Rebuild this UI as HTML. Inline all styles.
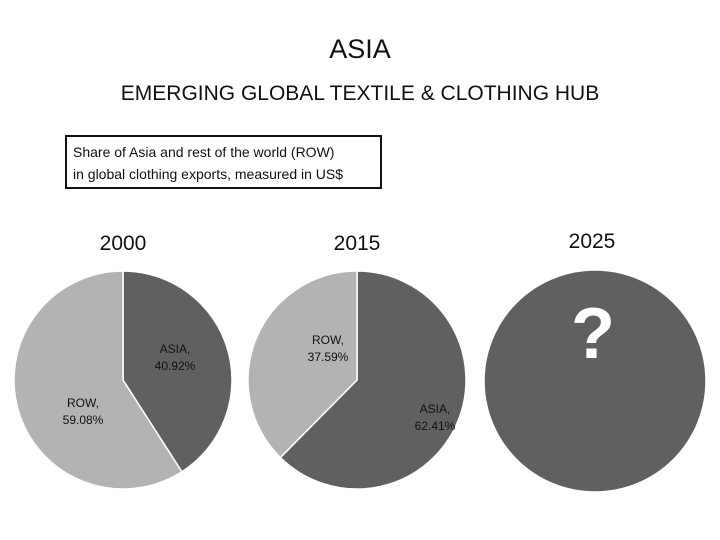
<!DOCTYPE html>
<html><head><meta charset="utf-8"><style>
body{margin:0;background:#fff;}
svg{display:block;font-family:"Liberation Sans",sans-serif;}
</style></head><body>
<svg width="720" height="540">
<text x="360" y="58" text-anchor="middle" font-size="27" fill="#111">ASIA</text>
<text x="360" y="100" text-anchor="middle" font-size="21" fill="#111">EMERGING GLOBAL TEXTILE &amp; CLOTHING HUB</text>
<rect x="66" y="136" width="315" height="52" fill="#fff" stroke="#111" stroke-width="2"/>
<text x="73" y="157" font-size="14" fill="#111">Share of Asia and rest of the world (ROW)</text>
<text x="73" y="179" font-size="14" fill="#111">in global clothing exports, measured in US$</text>
<text x="123" y="250" text-anchor="middle" font-size="21" fill="#111">2000</text>
<text x="357" y="250" text-anchor="middle" font-size="21" fill="#111">2015</text>
<text x="592" y="248" text-anchor="middle" font-size="21" fill="#111">2025</text>
<g id="pies"></g>
<circle cx="595" cy="381" r="111" fill="#606060" stroke="#fff" stroke-width="1.5"/>
<text x="593" y="358" text-anchor="middle" font-size="72" font-weight="bold" fill="#fff">?</text>
</svg>
<script>
const years=["2000","2015"];
const asiaShare=[40.92,62.41];
const rowShare=[59.08,37.59];
const centers=[[123,380],[357,380]];
const asiaLabelPos=[[175,353],[435,413]];
const rowLabelPos=[[83,407],[328,344]];
const R=109;
const g=document.getElementById('pies');
const NS="http://www.w3.org/2000/svg";
function pt(cx,cy,frac){const a=frac*2*Math.PI;return [cx+R*Math.sin(a),cy-R*Math.cos(a)];}
function slice(cx,cy,f0,f1,fill,name){
  const p0=pt(cx,cy,f0),p1=pt(cx,cy,f1);const large=(f1-f0)>0.5?1:0;
  const p=document.createElementNS(NS,'path');
  p.setAttribute('d',`M${cx},${cy}L${p0[0]},${p0[1]}A${R},${R} 0 ${large} 1 ${p1[0]},${p1[1]}Z`);
  p.setAttribute('fill',fill);p.setAttribute('stroke','#fff');p.setAttribute('stroke-width','1.5');
  
  
  g.appendChild(p);
}
function label(x,y,lines,name){
  const t=document.createElementNS(NS,'text');
  t.setAttribute('x',x);t.setAttribute('y',y);t.setAttribute('text-anchor','middle');
  t.setAttribute('font-size','12');t.setAttribute('fill','#111');
  
  
  lines.forEach((l,i)=>{const s=document.createElementNS(NS,'tspan');s.setAttribute('x',x);s.setAttribute('dy',i?17:0);s.textContent=l;t.appendChild(s);});
  g.appendChild(t);
}
years.forEach((y,i)=>{
  const [cx,cy]=centers[i];const a=asiaShare[i]/100;
  slice(cx,cy,0,a,'#606060','asia-slice-'+y);
  slice(cx,cy,a,1,'#b3b3b3','row-slice-'+y);
  label(asiaLabelPos[i][0],asiaLabelPos[i][1],['ASIA,',asiaShare[i].toFixed(2)+'%'],'asia-label-'+y);
  label(rowLabelPos[i][0],rowLabelPos[i][1],['ROW,',rowShare[i].toFixed(2)+'%'],'row-label-'+y);
});
</script>
</body></html>
